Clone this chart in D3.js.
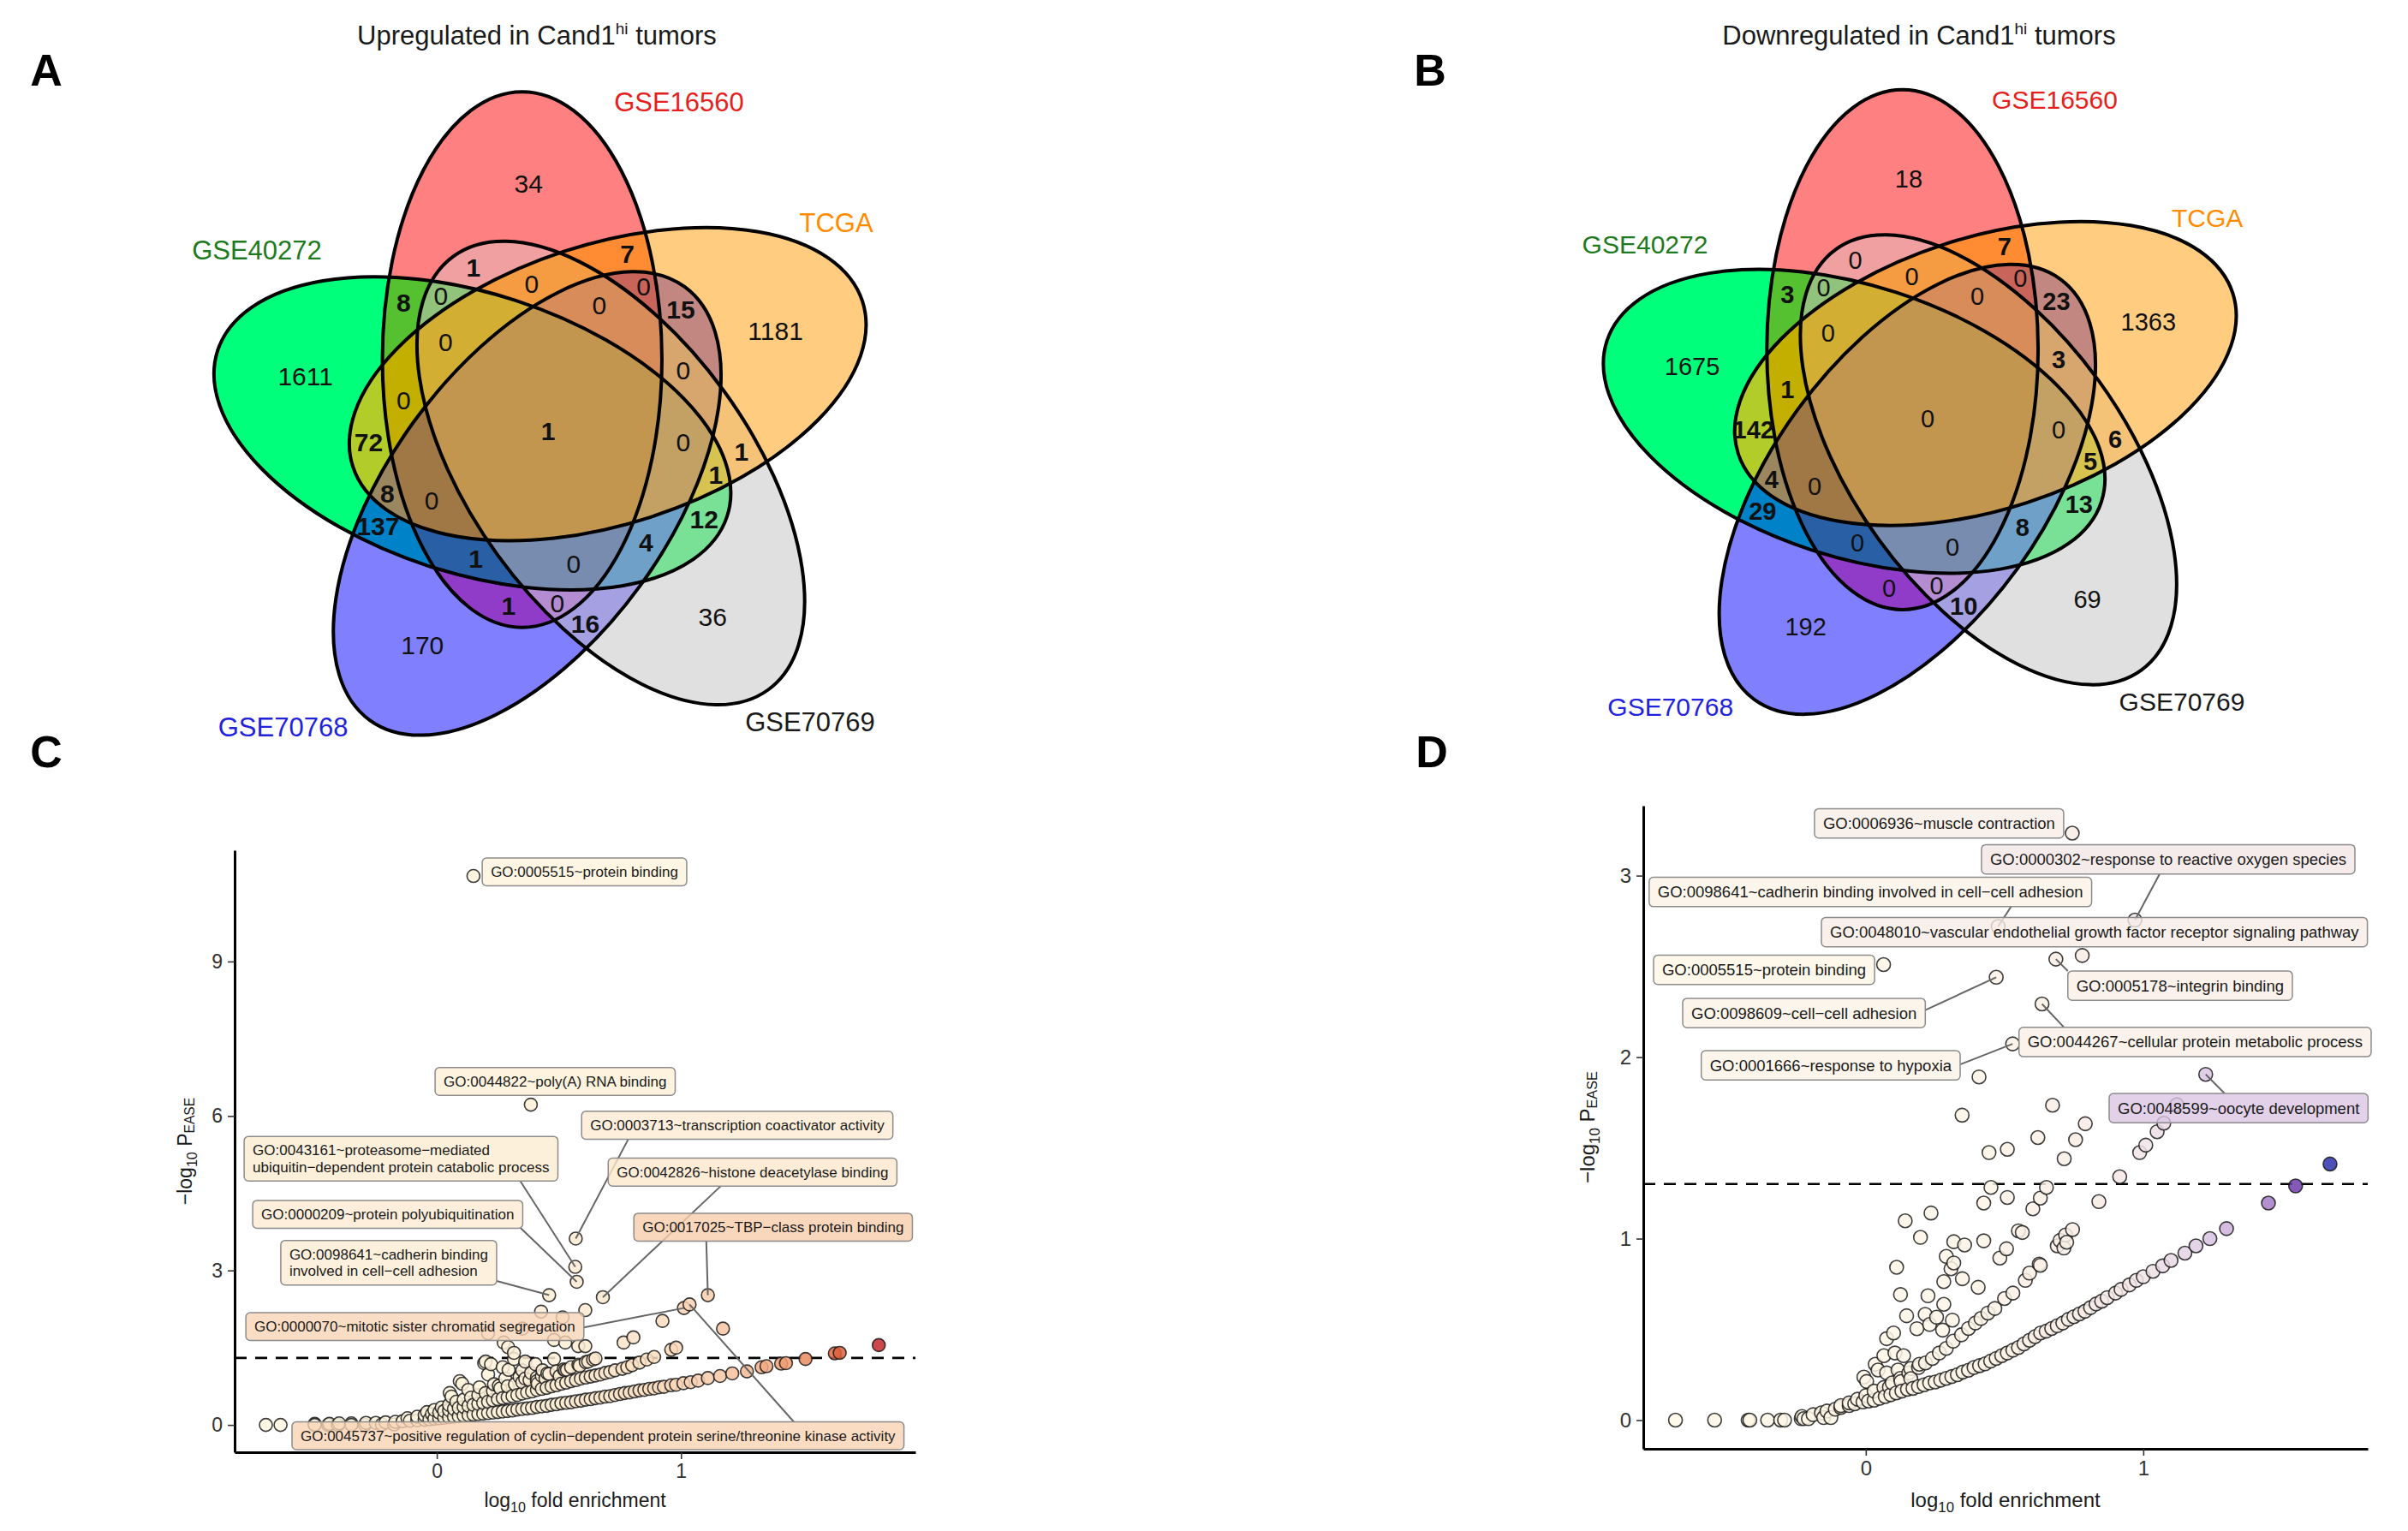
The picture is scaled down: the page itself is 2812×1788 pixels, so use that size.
<!DOCTYPE html>
<html>
<head>
<meta charset="utf-8">
<script src="https://cdn.jsdelivr.net/npm/d3@7"></script>
<style>
  body { margin: 0; background: #fff; }
  svg { display: block; font-family: "Liberation Sans", Arial, Helvetica, sans-serif; }
</style>
</head>
<body>
<svg id="fig" width="2812" height="1788"></svg>
<script>
// ================= data =================
// Venn sets: A=GSE16560, B=TCGA, C=GSE70769, D=GSE70768, E=GSE40272
const setNames = ["GSE16560", "TCGA", "GSE70769", "GSE70768", "GSE40272"];
const regionKeys = ["A","B","C","D","E",
  "AB","AC","AD","AE","BC","BD","BE","CD","CE","DE",
  "ABC","ABD","ABE","ACD","ACE","ADE","BCD","BCE","BDE","CDE",
  "ABCD","ABCE","ABDE","ACDE","BCDE","ABCDE"];
const upCounts = [34, 1181, 36, 170, 1611,
  7, 1, 1, 8, 1, 15, 72, 16, 12, 137,
  0, 0, 0, 0, 0, 1, 0, 1, 8, 4,
  0, 0, 0, 0, 0, 1];
const downCounts = [18, 1363, 69, 192, 1675,
  7, 0, 0, 3, 6, 23, 142, 10, 13, 29,
  0, 0, 1, 0, 0, 0, 3, 5, 4, 8,
  0, 0, 0, 0, 0, 0];

// GO enrichment points [log10 fold enrichment, -log10 P]
const upBand1 = [[-0.50,0.02],[-0.44,0.02],[-0.40,0.03],[-0.35,0.03],[-0.29,0.04],[-0.25,0.04],[-0.21,0.05],[-0.17,0.06],[-0.14,0.07],[-0.11,0.08],[-0.08,0.09],[-0.05,0.10],[-0.03,0.11],[-0.01,0.12],[0.01,0.13],[0.03,0.14],[0.05,0.15],[0.07,0.16],[0.09,0.17],[0.11,0.18],[0.13,0.19],[0.15,0.20],[0.17,0.21],[0.19,0.22],[0.21,0.23],[0.23,0.24],[0.25,0.25],[0.27,0.26],[0.29,0.27],[0.31,0.28],[0.33,0.30],[0.35,0.31],[0.37,0.32],[0.39,0.33],[0.41,0.35],[0.43,0.36],[0.45,0.37],[0.47,0.39],[0.49,0.40],[0.51,0.42],[0.53,0.43],[0.55,0.44],[0.57,0.46],[0.59,0.47],[0.61,0.49],[0.63,0.50],[0.65,0.52],[0.67,0.53],[0.69,0.55],[0.71,0.56],[0.73,0.58],[0.75,0.60],[0.77,0.62],[0.79,0.63],[0.81,0.65],[0.83,0.67],[0.85,0.68],[0.87,0.70],[0.89,0.71],[0.91,0.73],[0.93,0.74],[0.96,0.77],[0.98,0.78],[1.01,0.81],[1.04,0.83],[1.07,0.86],[1.11,0.91],[1.16,0.95],[1.21,1.00],[1.27,1.04],[1.33,1.12],[1.35,1.14],[1.41,1.19],[1.43,1.20],[1.51,1.28],[1.63,1.39],[1.65,1.40],[1.81,1.55]];
const upBand2 = [[-0.12,0.13],[-0.08,0.16],[-0.05,0.19],[-0.02,0.21],[0.01,0.24],[0.03,0.27],[0.05,0.29],[0.07,0.31],[0.09,0.33],[0.11,0.35],[0.13,0.37],[0.15,0.39],[0.17,0.41],[0.19,0.43],[0.21,0.45],[0.23,0.48],[0.25,0.50],[0.27,0.52],[0.29,0.54],[0.31,0.56],[0.33,0.58],[0.35,0.61],[0.37,0.63],[0.39,0.65],[0.41,0.68],[0.43,0.70],[0.45,0.72],[0.47,0.75],[0.49,0.77],[0.51,0.80],[0.53,0.82],[0.55,0.85],[0.57,0.87],[0.59,0.90],[0.61,0.92],[0.63,0.94],[0.65,0.96],[0.67,0.98],[0.69,1.01],[0.71,1.03],[0.73,1.06],[0.76,1.09],[0.78,1.12],[0.80,1.16],[0.83,1.21],[0.86,1.27],[0.89,1.32],[0.96,1.46],[0.98,1.50]];
const upBand3 = [[-0.04,0.25],[-0.01,0.29],[0.02,0.34],[0.05,0.39],[0.08,0.45],[0.11,0.49],[0.14,0.53],[0.17,0.58],[0.20,0.62],[0.23,0.66],[0.26,0.71],[0.29,0.75],[0.32,0.79],[0.35,0.83],[0.38,0.87],[0.41,0.92],[0.43,0.95],[0.46,0.99],[0.49,1.04],[0.52,1.08],[0.55,1.12],[0.58,1.17],[0.61,1.22],[0.64,1.27],[0.65,1.29]];
const upOther = [[-0.70,0.0],[-0.64,0.0],[-0.50,0.0],[-0.445,0.0],[-0.405,0.0],[-0.35,0.0],[-0.295,0.0],[-0.225,0.01],[-0.175,0.01],
  [0.053,0.62],[0.094,0.85],[0.104,0.80],[0.129,0.68],[0.175,0.73],[0.234,0.79],[0.254,0.76],[0.28,0.90],[0.362,0.90],[0.41,0.85],[0.413,0.80],[0.35,1.06],[0.386,1.01],[0.445,0.90],[0.453,1.00],[0.503,0.95],[0.20,1.23],[0.194,1.20],[0.222,1.18],[0.21,0.98],[0.27,1.12],[0.294,1.07],[0.339,0.93],[0.316,1.28],[0.362,1.23],[0.404,1.18],[0.433,1.06],[0.48,1.28],[0.526,1.06],[0.533,1.07],[0.585,1.15],[0.62,1.23],[0.274,1.60],[0.292,1.51],[0.316,1.40],[0.21,1.78],[0.35,1.87],[0.48,1.65],[0.526,1.60],[0.579,1.53],[0.608,1.53],[0.765,1.60],[0.805,1.70],[0.515,2.09],[0.427,2.20],[0.608,2.23],[0.924,2.02],[1.172,1.87],[0.06,0.55]];
const upTerms = ["GO:0005515~protein binding",
  "GO:0044822~poly(A) RNA binding",
  "GO:0003713~transcription coactivator activity",
  "GO:0043161~proteasome\u2212mediated\nubiquitin\u2212dependent protein catabolic process",
  "GO:0042826~histone deacetylase binding",
  "GO:0000209~protein polyubiquitination",
  "GO:0017025~TBP\u2212class protein binding",
  "GO:0098641~cadherin binding\ninvolved in cell\u2212cell adhesion",
  "GO:0000070~mitotic sister chromatid segregation",
  "GO:0045737~positive regulation of cyclin\u2212dependent protein serine/threonine kinase activity"];
const upTermX = [0.15, 0.385, 0.569, 0.567, 0.68, 0.573, 1.11, 0.46, 1.012, 1.035];
const upTermY = [10.66, 6.22, 3.62, 3.07, 2.48, 2.78, 2.52, 2.52, 2.27, 2.34];

const downBand1 = [[-0.23,0.02],[-0.19,0.03],[-0.16,0.04],[-0.14,0.05],[-0.11,0.06],[-0.09,0.07],[-0.06,0.08],[-0.04,0.09],[-0.01,0.10],[0.01,0.105],[0.03,0.11],[0.05,0.12],[0.07,0.13],[0.09,0.14],[0.11,0.15],[0.13,0.16],[0.15,0.17],[0.17,0.175],[0.19,0.185],[0.21,0.195],[0.23,0.205],[0.25,0.21],[0.27,0.22],[0.29,0.23],[0.31,0.24],[0.33,0.25],[0.35,0.265],[0.37,0.275],[0.39,0.29],[0.41,0.30],[0.43,0.31],[0.45,0.325],[0.47,0.34],[0.49,0.355],[0.51,0.37],[0.53,0.385],[0.55,0.40],[0.57,0.42],[0.59,0.44],[0.61,0.46],[0.63,0.48],[0.65,0.49],[0.67,0.505],[0.69,0.52],[0.71,0.535],[0.73,0.555],[0.75,0.57],[0.77,0.585],[0.79,0.60],[0.81,0.62],[0.83,0.64],[0.85,0.655],[0.87,0.675],[0.90,0.70],[0.92,0.72],[0.95,0.745],[0.975,0.77],[1.00,0.79],[1.035,0.82],[1.07,0.85],[1.10,0.88],[1.15,0.92],[1.19,0.96],[1.24,1.00],[1.30,1.055]];
const downBand2 = [[-0.09,0.08],[-0.06,0.095],[-0.03,0.115],[0.00,0.135],[0.03,0.16],[0.065,0.18],[0.095,0.205],[0.125,0.23],[0.155,0.26],[0.19,0.29],[0.215,0.315],[0.24,0.34],[0.265,0.37],[0.29,0.395],[0.315,0.435],[0.345,0.47],[0.37,0.505],[0.395,0.535],[0.415,0.56],[0.44,0.59],[0.465,0.615],[0.50,0.67],[0.53,0.70],[0.575,0.77],[0.59,0.81],[0.625,0.86],[0.69,0.96],[0.70,0.99],[0.72,1.02],[0.745,1.05]];
const downOther = [[-0.686,0],[-0.545,0],[-0.424,0],[-0.418,0],[-0.354,0],[-0.307,0],[-0.293,0],[-0.233,0.008],[-0.223,0.008],[-0.207,0.008],[-0.152,0.014],[-0.126,0.014],
  [0.142,1.098],[0.235,1.141],[0.197,1.007],[0.317,0.983],[0.356,0.965],[0.425,0.988],[0.425,1.196],[0.51,1.227],[0.451,1.282],[0.602,1.164],[0.629,1.223],[0.651,1.282],[0.55,1.043],[0.507,0.944],[0.483,0.893],[0.629,0.853],[0.111,0.842],[0.29,0.902],[0.317,0.866],[0.307,0.834],[0.281,0.763],[0.348,0.779],[0.405,0.732],[0.125,0.692],[0.224,0.685],[0.281,0.638],[0.147,0.575],[0.214,0.583],[0.255,0.567],[0.312,0.551],[0.184,0.504],[0.23,0.527],[0.277,0.496],[0.10,0.48],[0.075,0.449],[0.065,0.355],[0.105,0.370],[0.136,0.355],[0.034,0.308],[0.044,0.276],[0.075,0.26],[0.116,0.276],[0.162,0.284],[0.193,0.308],[-0.007,0.237],[0.003,0.213],[0.085,0.182],[0.127,0.213],[0.162,0.229],
  [0.714,0.948],[0.724,0.98],[0.564,1.034],
  [0.84,1.204],[0.915,1.341],[0.715,1.44],[0.444,1.474],[0.51,1.492],[0.62,1.557],[0.756,1.545],[0.987,1.474],[1.009,1.515],[1.05,1.589],[1.074,1.636],[1.121,1.738],[0.791,1.633],[0.347,1.68],[0.673,1.735],[0.408,1.891],
  [1.451,1.196],[1.549,1.29],[1.673,1.411]];
const downTerms = ["GO:0006936~muscle contraction",
  "GO:0000302~response to reactive oxygen species",
  "GO:0098641~cadherin binding involved in cell\u2212cell adhesion",
  "GO:0048010~vascular endothelial growth factor receptor signaling pathway",
  "GO:0005515~protein binding",
  "GO:0005178~integrin binding",
  "GO:0098609~cell\u2212cell adhesion",
  "GO:0044267~cellular protein metabolic process",
  "GO:0001666~response to hypoxia",
  "GO:0048599~oocyte development"];
const downTermX = [0.744, 0.97, 0.477, 0.78, 0.064, 0.685, 0.47, 0.635, 0.529, 1.225];
const downTermY = [3.234, 2.755, 2.72, 2.56, 2.51, 2.54, 2.44, 2.293, 2.073, 1.905];

// ================= layout / style =================
const W = 2812, H = 1788;
const svg = d3.select("#fig");
const FONT = "Liberation Sans, Arial, Helvetica, sans-serif";

// label box placement (left x, centre y in data units; segment anchor as box fraction)
const upBoxes = [[0.186,10.74,null,null],[-0.007,6.67,null,null],[0.593,5.82,0.15,1],[-0.789,5.17,0.88,1],
  [0.702,4.91,0.39,1],[-0.754,4.09,0.99,0.97],[0.807,3.84,0.26,1],[-0.639,3.15,1,0.91],[-0.782,1.91,1,0.53],[-0.593,-0.21,0.82,0]];
const downBoxes = [[-0.185,3.288,null,null],[0.417,3.09,0.477,1],[-0.781,2.91,0.818,1],[-0.16,2.689,null,null],
  [-0.765,2.481,null,null],[0.728,2.394,0,0],[-0.66,2.243,1,0.4],[0.552,2.083,0.128,0],[-0.593,1.955,1,0.47],[0.877,1.719,0.446,0]];

const regionColors = ["#FF8080","#FFCC80","#E0E0E0","#8080FF","#00FF7A",
  "#FF8C32","#F0A0A0","#913CC8","#55C030","#F5C378","#C38782","#B2CD2A","#A5A0E1","#78E196","#0082C8",
  "#F59B41","#C8645A","#C3AF00","#B48CD2","#91C37D","#285FA5","#D7A56E","#D7C350","#9B875F","#6EA0C8",
  "#D78C5A","#D2AF32","#A07846","#788CAF","#C3A064","#C39650"];
const setLabelColors = ["#E61E1E", "#FF8C00", "#1A1A1A", "#2222DD", "#1E7A1E"];
const setLabelPos = [[0.225,-0.564],[0.495,-0.356],[0.45,0.50],[-0.455,0.51],[-0.50,-0.309]];

// five-ellipse geometry (VennDiagram style), unit coordinates, y down
const VA = 0.24, VB = 0.46, VDIST = 0.13, VINIT = -20;
const ell = d3.range(5).map(k => {
  const a0 = VINIT * Math.PI / 180;
  const bx = VDIST * Math.sin(a0), by = -VDIST * Math.cos(a0);
  const r = 72 * k * Math.PI / 180;
  return { cx: bx * Math.cos(r) - by * Math.sin(r), cy: bx * Math.sin(r) + by * Math.cos(r), rot: 72 * k,
           c: Math.cos(r), s: Math.sin(r) };
});

// find a roomy spot inside every region for its count
const bestSpot = {};
for (let px = -0.62; px <= 0.62; px += 0.004) {
  for (let py = -0.62; py <= 0.62; py += 0.004) {
    let m = 0, dmin = Infinity;
    ell.forEach((e, k) => {
      const dx = px - e.cx, dy = py - e.cy;
      const u = dx * e.c + dy * e.s, v = -dx * e.s + dy * e.c;
      const r = Math.hypot(u / VA, v / VB);
      const gr = Math.hypot(u / (VA * VA), v / (VB * VB)) / Math.max(r, 1e-9);
      if (r < 1) m |= 1 << k;
      dmin = Math.min(dmin, Math.abs(r - 1) / Math.max(gr, 1e-9));
    });
    if (!m) continue;
    if (!bestSpot[m] || dmin > bestSpot[m].d) bestSpot[m] = { x: px, y: py, d: dmin };
  }
}
// petal counts sit a little nearer the middle
[1, 2, 4, 8, 16].forEach(m => { bestSpot[m].x *= 0.93; bestSpot[m].y *= 0.93; });
const maskOf = key => key.split("").reduce((m, ch) => m | (1 << "ABCDE".indexOf(ch)), 0);

function drawVenn(id, cx, cy, s, counts, titleStart, titleX, fs) {
  const defs = svg.append("defs");
  const E = ell.map(e => ({ x: cx + s * e.cx, y: cy + s * e.cy, rot: e.rot }));
  const shape = (sel, e) => sel.attr("cx", e.x).attr("cy", e.y).attr("rx", VA * s).attr("ry", VB * s)
    .attr("transform", `rotate(${e.rot},${e.x},${e.y})`);
  E.forEach((e, k) => {
    shape(defs.append("clipPath").attr("id", `${id}c${k}`).append("ellipse"), e);
    const mk = defs.append("mask").attr("id", `${id}m${k}`).attr("maskUnits", "userSpaceOnUse")
      .attr("x", 0).attr("y", 0).attr("width", W).attr("height", H);
    mk.append("rect").attr("width", W).attr("height", H).attr("fill", "#fff");
    shape(mk.append("ellipse"), e).attr("fill", "#000");
  });
  const g = svg.append("g");
  regionKeys.forEach((key, i) => {
    const m = maskOf(key);
    let node = g;
    for (let k = 0; k < 5; k++) {
      node = (m & (1 << k)) ? node.append("g").attr("clip-path", `url(#${id}c${k})`)
                            : node.append("g").attr("mask", `url(#${id}m${k})`);
    }
    node.append("rect").attr("x", cx - 0.7 * s).attr("y", cy - 0.7 * s)
      .attr("width", 1.4 * s).attr("height", 1.4 * s).attr("fill", regionColors[i]);
  });
  E.forEach(e => shape(g.append("ellipse"), e).attr("fill", "none").attr("stroke", "#000").attr("stroke-width", 4));

  regionKeys.forEach((key, i) => {
    const p = bestSpot[maskOf(key)];
    g.append("text").attr("x", cx + s * p.x).attr("y", cy + s * p.y)
      .attr("text-anchor", "middle").attr("dominant-baseline", "central")
      .attr("font-size", fs).attr("fill", "#111")
      .attr("font-weight", key.length > 1 && counts[i] > 0 ? "bold" : "normal")
      .text(counts[i]);
  });
  setNames.forEach((n, k) => {
    g.append("text").attr("x", cx + s * setLabelPos[k][0]).attr("y", cy + s * setLabelPos[k][1])
      .attr("text-anchor", "middle").attr("dominant-baseline", "central")
      .attr("font-size", fs + 1).attr("fill", setLabelColors[k]).text(n);
  });
  const t = g.append("text").attr("x", titleX).attr("y", 52).attr("text-anchor", "middle")
    .attr("font-size", 31).attr("fill", "#1a1a1a");
  t.append("tspan").text(titleStart + " in Cand1");
  t.append("tspan").attr("dy", -12).attr("font-size", 19).text("hi");
  t.append("tspan").attr("dy", 12).text(" tumors");
}

function drawScatter(p) {
  const x = d3.scaleLinear().domain(p.xDom).range(p.xRange);
  const y = d3.scaleLinear().domain(p.yDom).range(p.yRange);
  const g = svg.append("g");
  const allPts = p.points.concat(p.termX.map((v, i) => [v, p.termY[i]]));
  const maxFE = d3.max(allPts, d => Math.pow(10, d[0]));
  const fill = d3.scaleLinear().domain(p.stops.map(t => t * maxFE)).range(p.colors).clamp(true);

  const ax = g.append("g").attr("transform", `translate(0,${p.yRange[0]})`)
    .call(d3.axisBottom(x).tickValues(p.xTicks).tickFormat(d3.format("d")).tickSize(8).tickSizeOuter(0).tickPadding(6));
  const ay = g.append("g").attr("transform", `translate(${p.xRange[0]},0)`)
    .call(d3.axisLeft(y).tickValues(p.yTicks).tickFormat(d3.format("d")).tickSize(8).tickSizeOuter(0).tickPadding(6));
  [ax, ay].forEach(a => {
    a.attr("font-family", FONT).attr("font-size", p.tickFont);
    a.select(".domain").attr("stroke", "#000").attr("stroke-width", 3);
    a.selectAll(".tick line").attr("stroke", "#333").attr("stroke-width", 1.6);
    a.selectAll(".tick text").attr("fill", "#333");
  });

  const xl = g.append("text").attr("x", (p.xRange[0] + p.xRange[1]) / 2).attr("y", p.xLabelY)
    .attr("text-anchor", "middle").attr("font-size", p.titleFont).attr("fill", "#1a1a1a");
  xl.append("tspan").text("log");
  xl.append("tspan").attr("dy", 6).attr("font-size", p.titleFont * 0.7).text("10");
  xl.append("tspan").attr("dy", -6).text(" fold enrichment");

  const yl = g.append("text").attr("transform", `translate(${p.yLabelX},${(p.yRange[0] + p.yRange[1]) / 2}) rotate(-90)`)
    .attr("text-anchor", "middle").attr("font-size", p.titleFont).attr("fill", "#1a1a1a");
  yl.append("tspan").text("\u2212log");
  yl.append("tspan").attr("dy", 6).attr("font-size", p.titleFont * 0.7).text("10");
  yl.append("tspan").attr("dy", -6).text(" P");
  yl.append("tspan").attr("dy", 3).attr("font-size", p.titleFont * 0.68).text("EASE");

  const cut = y(-Math.log10(0.05));
  g.append("line").attr("x1", p.xRange[0]).attr("x2", p.xRange[1]).attr("y1", cut).attr("y2", cut)
    .attr("stroke", "#000").attr("stroke-width", 2.6).attr("stroke-dasharray", "14 10");

  const sorted = allPts.slice().sort((a, b) => a[0] - b[0]);
  g.append("g").selectAll("circle").data(sorted).join("circle")
    .attr("cx", d => x(d[0])).attr("cy", d => y(d[1])).attr("r", p.r)
    .attr("fill", d => fill(Math.pow(10, d[0]))).attr("fill-opacity", 0.85)
    .attr("stroke", "#1a1a1a").attr("stroke-width", 1.6).attr("stroke-opacity", 0.85);

  const segG = g.append("g"), boxG = g.append("g");
  const lh = p.labelFont * 1.15, padX = 10, padY = 6.5;
  p.terms.forEach((term, i) => {
    const [bx, by, fx, fy] = p.boxes[i];
    const lines = term.split("\n");
    const tg = boxG.append("g");
    const rect = tg.append("rect");
    const txt = tg.append("text").attr("font-size", p.labelFont).attr("fill", "#1a1a1a");
    lines.forEach(l => txt.append("tspan").text(l));
    const tw = d3.max(txt.selectAll("tspan").nodes(), n => n.getComputedTextLength());
    const bw = tw + 2 * padX, bh = lines.length * lh + 2 * padY;
    const left = x(bx), top = y(by) - bh / 2;
    rect.attr("x", left).attr("y", top).attr("width", bw).attr("height", bh).attr("rx", 5)
      .attr("fill", fill(Math.pow(10, p.termX[i]))).attr("fill-opacity", 0.8)
      .attr("stroke", "#8c8c8c").attr("stroke-width", 1.5);
    txt.selectAll("tspan").attr("x", left + padX)
      .attr("y", (d, j) => top + padY + j * lh + lh / 2 + p.labelFont * 0.35);
    if (fx !== null) {
      segG.append("line").attr("x1", left + fx * bw).attr("y1", top + fy * bh)
        .attr("x2", x(p.termX[i])).attr("y2", y(p.termY[i]))
        .attr("stroke", "#666").attr("stroke-width", 2);
    }
  });
}

// ================= draw =================
drawVenn("va", 640, 503, 680, upCounts, "Upregulated", 627, 30);
drawVenn("vb", 2251, 489, 660, downCounts, "Downregulated", 2241, 29);

drawScatter({
  xDom: [-0.828, 1.96], xRange: [274, 1069], yDom: [-0.53, 11.16], yRange: [1696, 993],
  xTicks: [0, 1], yTicks: [0, 3, 6, 9], tickFont: 23, titleFont: 23, labelFont: 17, r: 7.5,
  xLabelY: 1760, yLabelX: 224,
  points: upBand1.concat(upBand2, upBand3, upOther),
  terms: upTerms, termX: upTermX, termY: upTermY, boxes: upBoxes,
  stops: [0, 0.45, 0.7, 1], colors: ["#FFF8E1", "#EE9669", "#DC5F3C", "#C3282D"]
});
drawScatter({
  xDom: [-0.802, 1.809], xRange: [1919, 2765], yDom: [-0.158, 3.385], yRange: [1692, 941],
  xTicks: [0, 1], yTicks: [0, 1, 2, 3], tickFont: 24, titleFont: 24, labelFont: 18.5, r: 8,
  xLabelY: 1760, yLabelX: 1862,
  points: downBand1.concat(downBand2, downOther),
  terms: downTerms, termX: downTermX, termY: downTermY, boxes: downBoxes,
  stops: [0, 0.2, 0.35, 0.6, 0.75, 1], colors: ["#FFF8E6", "#F3E6E6", "#DCC8E4", "#A87CC8", "#6E3CAA", "#2D32AA"]
});

// panel letters
[["A", 54, 100], ["B", 1670, 100], ["C", 54, 896], ["D", 1672, 896]].forEach(([t, lx, ly]) =>
  svg.append("text").attr("x", lx).attr("y", ly).attr("text-anchor", "middle")
    .attr("font-size", 52).attr("font-weight", "bold").attr("fill", "#000").text(t));
</script>
</body>
</html>
